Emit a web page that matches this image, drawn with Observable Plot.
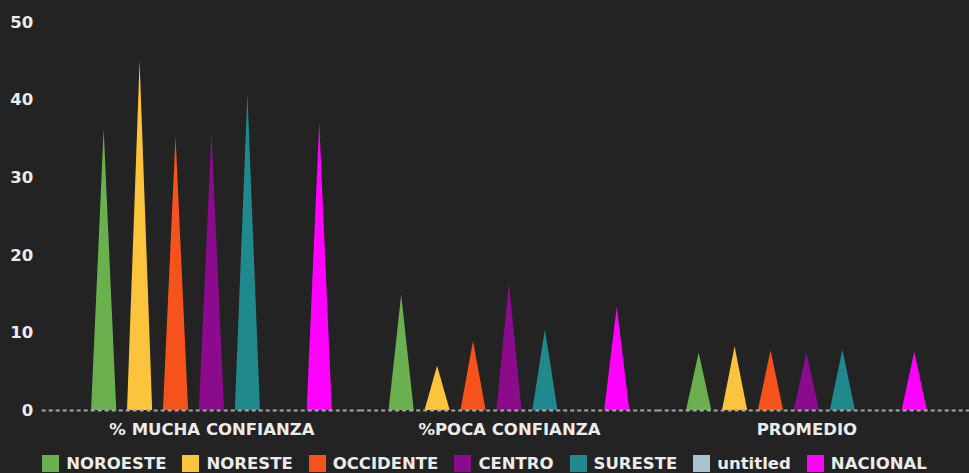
<!DOCTYPE html>
<html>
<head>
<meta charset="utf-8">
<script src="https://cdn.jsdelivr.net/npm/d3@7"></script>
<script src="https://cdn.jsdelivr.net/npm/@observablehq/plot@0.6"></script>
<style>
  html, body { margin: 0; padding: 0; background: #232323; }
  #chart svg { display: block; }
  .legend { display: flex; justify-content: center; align-items: center; gap: 16px;
    font-family: "DejaVu Sans", sans-serif; font-weight: bold; font-size: 16.5px; color: #ececec;
    height: 33px; margin-top: 7px; }
  .legend .item { display: flex; align-items: center; gap: 7px; }
  .legend .sw { width: 17px; height: 17px; display: inline-block; }
</style>
</head>
<body>
<div id="chart"></div>
<script>
const groups = ["% MUCHA CONFIANZA", "%POCA CONFIANZA", "PROMEDIO"];
const series = ["NOROESTE", "NORESTE", "OCCIDENTE", "CENTRO", "SURESTE", "untitled", "NACIONAL"];
const colors = ["#6ab04f", "#fcc33c", "#f6531c", "#8c0b8c", "#20898d", "#a9c3cf", "#ff00ff"];
const yTicks = [0, 10, 20, 30, 40, 50];

const noroeste  = [36.2, 14.9, 7.4];
const noreste   = [45.0, 5.7, 8.2];
const occidente = [35.3, 8.9, 7.7];
const centro    = [35.8, 16.4, 7.4];
const sureste   = [40.8, 10.4, 7.8];
const untitled  = [null, null, null];
const nacional  = [37.1, 13.3, 7.5];

const valuesBySeries = [noroeste, noreste, occidente, centro, sureste, untitled, nacional];
const data = [];
series.forEach((s, i) => groups.forEach((g, j) => {
  const v = valuesBySeries[i][j];
  if (v != null) data.push({group: g, series: s, value: v});
}));

// dashed baseline, one piece per facet; the outer pieces run on to the edges of the chart
const ruleStyle = {stroke: "#a8a8a8", strokeWidth: 2, strokeDasharray: "4,3"};
const baseline = groups.map((g, j) => Plot.ruleY([0], {
  ...ruleStyle,
  fx: () => g,
  insetLeft: j === 0 ? -21 : 0,
  insetRight: j === groups.length - 1 ? -14 : 0
}));

const chart = Plot.plot({
  width: 969,
  height: 440,
  marginLeft: 42,
  marginRight: 0,
  marginTop: 22,
  marginBottom: 30,
  style: {background: "#232323", color: "#ececec", fontFamily: "DejaVu Sans", fontWeight: "bold", fontSize: "16.5px"},
  fx: {domain: groups, paddingInner: 0, paddingOuter: 0.058, align: 0.6, round: false, label: null, tickSize: 0, tickPadding: 13},
  x: {domain: series, paddingInner: 0.3, paddingOuter: 0.79, round: false, axis: null},
  y: {domain: [0, 50], ticks: yTicks, tickSize: 0, tickPadding: 30, label: null},
  color: {domain: series, range: colors},
  marks: [
    Plot.barY(data, {fx: "group", x: "series", y: "value", fill: "series"}),
    ...baseline
  ]
});

// turn each bar into a triangle (base on the baseline, apex at the value)
d3.select(chart).selectAll('g[aria-label="bar"] rect').each(function() {
  const r = d3.select(this);
  const x = +r.attr("x"), y = +r.attr("y"), w = +r.attr("width"), h = +r.attr("height");
  const fill = r.attr("fill") || d3.select(this.parentNode).attr("fill");
  const p = d3.select(this.parentNode).insert("path", () => this)
    .attr("d", `M${x},${y + h}L${x + w / 2},${y}L${x + w},${y + h}Z`)
    .attr("fill", fill);
  const t = r.attr("transform"); if (t) p.attr("transform", t);
  r.remove();
});

document.getElementById("chart").appendChild(chart);

const legend = document.createElement("div");
legend.className = "legend";
series.forEach((s, i) => {
  const item = document.createElement("span");
  item.className = "item";
  const sw = document.createElement("span");
  sw.className = "sw";
  sw.style.background = colors[i];
  const label = document.createElement("span");
  label.textContent = s;
  item.appendChild(sw); item.appendChild(label);
  legend.appendChild(item);
});
document.body.appendChild(legend);
</script>
</body>
</html>
